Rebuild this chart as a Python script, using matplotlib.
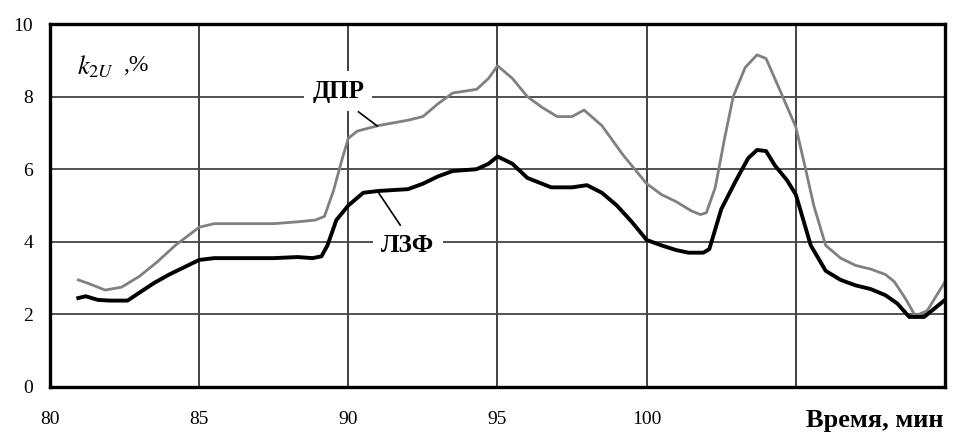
import matplotlib
matplotlib.use("Agg")
import matplotlib.pyplot as plt

# ДПР (grey) curve
dpr_t = [80.95, 81.3, 81.85, 82.4, 83.0, 83.6, 84.2, 85.0, 85.5, 86.5, 87.5, 88.3, 88.9, 89.2,
         89.5, 89.8, 90.0, 90.3, 91.0, 92.0, 92.5, 93.0, 93.5, 94.3, 94.7, 95.0, 95.5, 96.0,
         96.5, 97.0, 97.5, 97.9, 98.5, 99.2, 100.0, 100.5, 101.0, 101.5, 101.8, 102.0, 102.3,
         102.6, 102.9, 103.3, 103.7, 104.0, 104.4, 105.0, 105.3, 105.6, 106.0, 106.5, 107.0,
         107.5, 108.0, 108.3, 108.7, 109.0, 109.4, 110.0]
dpr_v = [2.95, 2.85, 2.67, 2.75, 3.05, 3.45, 3.9, 4.4, 4.5, 4.5, 4.5, 4.55, 4.6, 4.7,
         5.4, 6.3, 6.85, 7.05, 7.2, 7.35, 7.45, 7.8, 8.1, 8.2, 8.5, 8.85, 8.5, 8.0,
         7.7, 7.45, 7.45, 7.63, 7.2, 6.4, 5.6, 5.3, 5.1, 4.85, 4.75, 4.8, 5.5,
         6.8, 8.0, 8.8, 9.15, 9.05, 8.3, 7.16, 6.1, 5.0, 3.9, 3.55, 3.35,
         3.25, 3.1, 2.9, 2.4, 1.96, 2.1, 2.9]

# ЛЗФ (black) curve
lzf_t = [80.95, 81.2, 81.6, 82.0, 82.6, 83.0, 83.5, 84.0, 84.5, 85.0, 85.5, 86.5, 87.5, 88.3,
         88.8, 89.1, 89.3, 89.6, 90.0, 90.5, 91.0, 92.0, 92.5, 93.0, 93.5, 94.3, 94.7, 95.0,
         95.5, 96.0, 96.8, 97.5, 98.0, 98.5, 99.0, 99.5, 100.0, 100.5, 101.0, 101.4, 101.9,
         102.1, 102.5, 103.0, 103.4, 103.7, 104.0, 104.3, 104.7, 105.0, 105.5, 106.0, 106.5,
         107.0, 107.5, 108.0, 108.4, 108.8, 109.3, 110.0]
lzf_v = [2.45, 2.5, 2.4, 2.38, 2.38, 2.6, 2.87, 3.1, 3.3, 3.5, 3.55, 3.55, 3.55, 3.58,
         3.55, 3.6, 3.9, 4.6, 5.0, 5.35, 5.4, 5.45, 5.6, 5.8, 5.95, 6.0, 6.15, 6.35,
         6.15, 5.76, 5.5, 5.5, 5.56, 5.35, 5.0, 4.55, 4.05, 3.9, 3.77, 3.7, 3.7,
         3.8, 4.9, 5.7, 6.3, 6.53, 6.5, 6.1, 5.7, 5.3, 3.9, 3.2, 2.95,
         2.8, 2.7, 2.53, 2.3, 1.93, 1.93, 2.4]

x_ticks = [80, 85, 90, 95, 100]
x_grid = [85, 90, 95, 100, 105]
y_ticks = [0, 2, 4, 6, 8, 10]

plt.rcParams["font.family"] = ["Liberation Serif", "DejaVu Serif"]
plt.rcParams["mathtext.fontset"] = "stix"

fig = plt.figure(figsize=(9.57, 4.34), dpi=100)
ax = fig.add_axes([0.0522, 0.1083, 0.9353, 0.8364])

ax.plot(dpr_t, dpr_v, color="#808080", lw=2.0, zorder=3)
ax.plot(lzf_t, lzf_v, color="black", lw=2.8, zorder=3)

ax.set_xlim(80, 110)
ax.set_ylim(0, 10)
ax.set_xticks(x_ticks)
ax.set_yticks(y_ticks)
for g in x_grid:
    ax.axvline(g, color="#333333", lw=1.3, zorder=1)
for g in y_ticks[1:-1]:
    ax.axhline(g, color="#444444", lw=1.3, zorder=1)
ax.tick_params(which="both", length=0)
ax.tick_params(axis="x", pad=17, labelsize=14)
ax.tick_params(axis="y", pad=12, labelsize=14)
for s in ax.spines.values():
    s.set_linewidth(2.4)
    s.set_zorder(4)

ax.text(80.9, 8.82, r"$k_{2U}$", fontsize=19, va="center", ha="left")
ax.text(82.45, 8.85, ",%", fontsize=17, va="center", ha="left")

bbox = dict(facecolor="white", edgecolor="none", pad=6)
ax.text(89.66, 8.15, "ДПР", fontsize=18, fontweight="bold", ha="center", va="center",
        bbox=bbox, zorder=5)
ax.plot([90.34, 90.97], [7.58, 7.19], color="black", lw=1.2, zorder=5)
ax.text(92.0, 3.9, "ЛЗФ", fontsize=18, fontweight="bold", ha="center", va="center",
        bbox=bbox, zorder=5)
ax.plot([91.0, 91.74], [5.37, 4.46], color="black", lw=1.2, zorder=5)

fig.text(0.914, 0.03, "Время, мин", fontsize=19, fontweight="bold", ha="center", va="center")

fig.savefig("out.png", dpi=100)
plt.close(fig)
